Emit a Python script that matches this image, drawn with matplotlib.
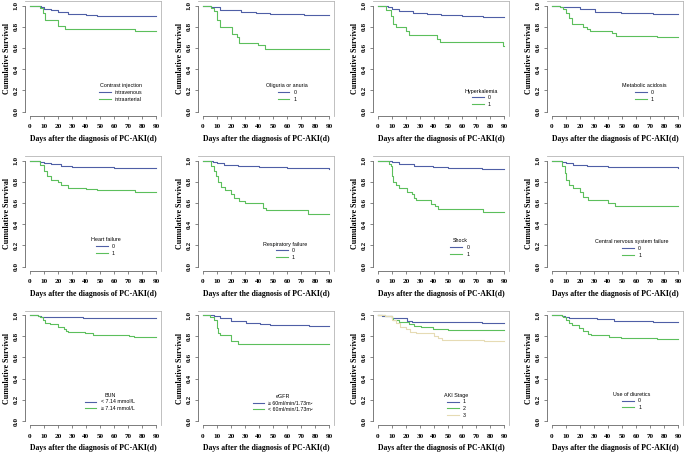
import numpy as np
import matplotlib
matplotlib.use("Agg")
import matplotlib.pyplot as plt

# Kaplan-Meier curves: (times, survival) step points
titles = ["Contrast injection", "Oliguria or anuria", "Hyperkalemia", "Metabolic acidosis",
          "Heart failure", "Respiratory failure", "Shock", "Central nervous system failure",
          "BUN", "eGFR", "AKI Stage", "Use of diuretics"]

labels = [["intravenous", "intraarterial"], ["0", "1"], ["0", "1"], ["0", "1"],
          ["0", "1"], ["0", "1"], ["0", "1"], ["0", "1"],
          ["< 7.14 mmol/L", "\u2265 7.14 mmol/L"],
          ["\u2265 60ml/min/1.73m\u00b2", "< 60ml/min/1.73m\u00b2"],
          ["1", "2", "3"], ["0", "1"]]

t_contrast_iv = [0, 8, 10, 15, 20, 27, 40, 48, 90]
s_contrast_iv = [1.0, 0.99, 0.97, 0.96, 0.94, 0.92, 0.915, 0.90, 0.90]
t_contrast_ia = [0, 7, 9, 11, 20, 25, 75, 90]
s_contrast_ia = [1.0, 0.98, 0.93, 0.86, 0.81, 0.78, 0.76, 0.76]

t_olig_0 = [0, 6, 8, 12, 27, 38, 48, 72, 76, 90]
s_olig_0 = [1.0, 0.99, 0.984, 0.96, 0.938, 0.928, 0.92, 0.915, 0.91, 0.91]
t_olig_1 = [0, 6, 8, 10, 12, 21, 24, 26, 39, 44, 90]
s_olig_1 = [1.0, 0.975, 0.95, 0.86, 0.80, 0.73, 0.70, 0.647, 0.625, 0.59, 0.59]

t_hyperk_0 = [0, 7, 10, 15, 25, 35, 45, 60, 75, 90]
s_hyperk_0 = [1.0, 0.99, 0.97, 0.95, 0.93, 0.92, 0.91, 0.90, 0.89, 0.89]
t_hyperk_1 = [0, 6, 9, 11, 13, 20, 22, 42, 44, 89, 90]
s_hyperk_1 = [1.0, 0.96, 0.90, 0.83, 0.80, 0.76, 0.72, 0.68, 0.66, 0.62, 0.62]

t_metab_0 = [0, 6, 10, 20, 31, 49, 72, 90]
s_metab_0 = [1.0, 0.99, 0.984, 0.965, 0.943, 0.933, 0.92, 0.918]
t_metab_1 = [0, 6, 8, 10, 12, 14, 22, 25, 27, 43, 46, 75, 90]
s_metab_1 = [1.0, 0.99, 0.97, 0.93, 0.88, 0.83, 0.80, 0.775, 0.763, 0.737, 0.715, 0.70, 0.70]

t_heart_0 = [0, 7, 10, 15, 22, 30, 45, 60, 90]
s_heart_0 = [1.0, 0.99, 0.975, 0.965, 0.95, 0.94, 0.935, 0.93, 0.93]
t_heart_1 = [0, 7, 10, 12, 15, 20, 22, 27, 40, 48, 75, 90]
s_heart_1 = [1.0, 0.96, 0.90, 0.85, 0.82, 0.80, 0.77, 0.74, 0.73, 0.72, 0.70, 0.70]

t_resp_0 = [0, 7, 10, 15, 25, 40, 60, 90]
s_resp_0 = [1.0, 0.99, 0.975, 0.96, 0.945, 0.935, 0.925, 0.92]
t_resp_1 = [0, 6, 8, 9, 11, 13, 16, 20, 22, 26, 30, 43, 45, 75, 90]
s_resp_1 = [1.0, 0.95, 0.90, 0.85, 0.80, 0.75, 0.72, 0.68, 0.65, 0.62, 0.60, 0.55, 0.53, 0.50, 0.50]

t_shock_0 = [0, 5, 10, 15, 26, 39, 50, 74, 90]
s_shock_0 = [1.0, 0.995, 0.984, 0.965, 0.946, 0.937, 0.93, 0.924, 0.924]
t_shock_1 = [0, 8, 9, 10, 11, 13, 15, 21, 24, 26, 27, 38, 41, 43, 75, 90]
s_shock_1 = [1.0, 0.97, 0.946, 0.85, 0.80, 0.77, 0.74, 0.70, 0.68, 0.647, 0.625, 0.593, 0.568, 0.543, 0.514, 0.514]

t_cns_0 = [0, 7, 10, 15, 25, 40, 60, 90]
s_cns_0 = [1.0, 0.99, 0.975, 0.96, 0.95, 0.94, 0.935, 0.93]
t_cns_1 = [0, 7, 9, 10, 12, 15, 20, 22, 26, 40, 45, 90]
s_cns_1 = [1.0, 0.95, 0.88, 0.82, 0.77, 0.74, 0.70, 0.66, 0.63, 0.60, 0.57, 0.57]

t_bun_0 = [0, 6, 8, 38, 90]
s_bun_0 = [1.0, 0.99, 0.978, 0.969, 0.969]
t_bun_1 = [0, 6, 7, 9, 11, 14, 20, 24, 26, 27, 39, 45, 50, 71, 74, 90]
s_bun_1 = [1.0, 0.995, 0.984, 0.953, 0.928, 0.916, 0.89, 0.87, 0.853, 0.844, 0.828, 0.816, 0.81, 0.803, 0.797, 0.797]

t_egfr_0 = [0, 8, 9, 12, 20, 31, 41, 48, 76, 90]
s_egfr_0 = [1.0, 0.995, 0.99, 0.968, 0.947, 0.921, 0.915, 0.906, 0.90, 0.897]
t_egfr_1 = [0, 5, 8, 10, 11, 12, 20, 25, 90]
s_egfr_1 = [1.0, 0.978, 0.953, 0.874, 0.833, 0.81, 0.755, 0.723, 0.723]

t_aki_1 = [0, 3, 7, 10, 21, 24, 74, 90]
s_aki_1 = [1.0, 0.995, 0.99, 0.968, 0.946, 0.937, 0.927, 0.927]
t_aki_2 = [0, 5, 10, 11, 15, 22, 26, 31, 39, 50, 90]
s_aki_2 = [1.0, 0.99, 0.968, 0.953, 0.937, 0.915, 0.896, 0.883, 0.864, 0.855, 0.855]
t_aki_3 = [0, 5, 10, 13, 16, 20, 23, 27, 40, 43, 46, 76, 90]
s_aki_3 = [1.0, 0.99, 0.953, 0.921, 0.89, 0.864, 0.842, 0.826, 0.80, 0.78, 0.763, 0.754, 0.754]

t_diur_0 = [0, 7, 9, 12, 32, 44, 72, 90]
s_diur_0 = [1.0, 0.995, 0.984, 0.968, 0.959, 0.946, 0.937, 0.937]
t_diur_1 = [0, 7, 8, 10, 12, 14, 19, 22, 26, 28, 41, 49, 75, 90]
s_diur_1 = [1.0, 0.995, 0.984, 0.952, 0.92, 0.905, 0.873, 0.85, 0.825, 0.81, 0.794, 0.78, 0.771, 0.771]

curves = [
    [(t_contrast_iv, s_contrast_iv), (t_contrast_ia, s_contrast_ia)],
    [(t_olig_0, s_olig_0), (t_olig_1, s_olig_1)],
    [(t_hyperk_0, s_hyperk_0), (t_hyperk_1, s_hyperk_1)],
    [(t_metab_0, s_metab_0), (t_metab_1, s_metab_1)],
    [(t_heart_0, s_heart_0), (t_heart_1, s_heart_1)],
    [(t_resp_0, s_resp_0), (t_resp_1, s_resp_1)],
    [(t_shock_0, s_shock_0), (t_shock_1, s_shock_1)],
    [(t_cns_0, s_cns_0), (t_cns_1, s_cns_1)],
    [(t_bun_0, s_bun_0), (t_bun_1, s_bun_1)],
    [(t_egfr_0, s_egfr_0), (t_egfr_1, s_egfr_1)],
    [(t_aki_1, s_aki_1), (t_aki_2, s_aki_2), (t_aki_3, s_aki_3)],
    [(t_diur_0, s_diur_0), (t_diur_1, s_diur_1)],
]

colors = ["#4f5fa6", "#5cbf5c", "#e6dbb4"]

# legend anchor (x in days, y in survival) per panel
leg_pos = [(65, 0.29), (60, 0.29), (74, 0.24), (66, 0.29),
           (54, 0.30), (59, 0.26), (58.5, 0.29), (57, 0.28),
           (57, 0.29), (57, 0.28), (56, 0.29), (57, 0.30)]

W, H = 684, 453
fig = plt.figure(figsize=(W / 100, H / 100), dpi=100)

col_x0 = [30, 203, 378, 552]
row_y1 = [5.5, 160.5, 315]
xs = 1.4      # px per day
ys = 106.0    # px per unit survival

serif = "Liberation Serif"
sans = "Liberation Sans"

for i in range(12):
    r, c = divmod(i, 4)
    left = col_x0[c] - 3.6 * xs
    top = row_y1[r] - 0.04 * ys
    w = 97.2 * xs
    h = 1.08 * ys
    ax = fig.add_axes([left / W, 1 - (top + h) / H, w / W, h / H])

    for k, (t, s) in enumerate(curves[i]):
        ax.step(t, s, where="post", color=colors[k], lw=0.8, label=labels[i][k])

    ax.set_xlim(-3.6, 93.6)
    ax.set_ylim(-0.04, 1.04)
    ax.set_xticks(np.arange(0, 91, 10))
    ax.set_yticks(np.arange(0, 1.01, 0.2))
    ax.set_xticklabels([str(v) for v in range(0, 91, 10)],
                       fontfamily=serif, fontweight="bold", fontsize=5.2)
    ax.set_yticklabels(["%.1f" % v for v in np.arange(0, 1.01, 0.2)],
                       fontfamily=serif, fontweight="bold", fontsize=5.2,
                       rotation=90, va="center")
    ax.tick_params(axis="x", length=2, width=0.5, colors="#555555", pad=4, labelcolor="black")
    ax.tick_params(axis="y", length=2, width=0.5, colors="#555555", pad=2.5, labelcolor="black")

    for side in ["top", "right"]:
        ax.spines[side].set_color("#b5b5b5")
        ax.spines[side].set_linewidth(0.6)
    ax.spines["left"].set_bounds(0, 1)
    ax.spines["bottom"].set_bounds(0, 90)
    for side in ["left", "bottom"]:
        ax.spines[side].set_color("#666666")
        ax.spines[side].set_linewidth(0.6)

    ax.set_xlabel("Days after the diagnosis of PC-AKI(d)", fontfamily=serif,
                  fontweight="bold", fontsize=5.6, labelpad=4)
    ax.set_ylabel("Cumulative Survival", fontfamily=serif, fontweight="bold",
                  fontsize=5.8, labelpad=2)

    lg = ax.legend(title=titles[i], loc="upper center", bbox_to_anchor=leg_pos[i],
                   bbox_transform=ax.transData, frameon=False, borderpad=0,
                   prop={"family": sans, "size": 3.8}, handlelength=2.2,
                   handletextpad=0.8, labelspacing=0.3)
    lg.get_title().set_fontfamily(sans)
    lg.get_title().set_fontsize(3.9)

fig.savefig("out.png", dpi=100)
